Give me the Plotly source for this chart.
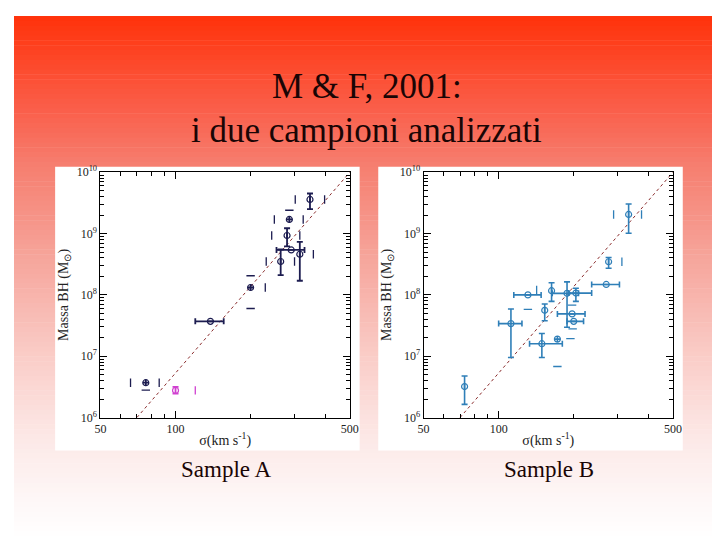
import math
import plotly.graph_objects as go

# Sample A: sigma (km/s), black hole mass (Msun)
a_sigma = [346, 286, 280, 291, 264, 315, 200, 138, 76]
a_mass = [3.6e9, 1.7e9, 9.3e8, 5.4e8, 3.5e8, 4.6e8, 1.32e8, 3.7e7, 3.7e6]
a_sigma_lo = [None, None, None, 254, None, None, None, 120, None]
a_sigma_hi = [None, None, None, 329, None, None, None, 156, None]
a_mass_lo = [2.5e9, None, 6.2e8, None, 2.1e8, 1.7e8, None, None, None]
a_mass_hi = [4.5e9, None, 1.22e9, None, 5.5e8, 7.3e8, None, None, None]
# end caps whose bar lines did not survive in the scan
a_vcap_sigma = [302, 396, 249, 325, 243, 315, 231, 300, 357, 229, 66, 86]
a_vcap_mass = [3.6e9, 3.6e9, 1.7e9, 1.7e9, 9.3e8, 9.3e8, 3.5e8, 3.5e8, 4.6e8, 1.32e8, 3.7e6, 3.7e6]
a_hcap_sigma = [286, 200, 200, 76]
a_hcap_mass = [2.4e9, 2.05e8, 6.0e7, 2.8e6]
# the one magenta point of sample A
a_pink_sigma = [100]
a_pink_mass = [2.77e6]
a_pink_mass_lo = [2.45e6]
a_pink_mass_hi = [3.17e6]
a_pink_cap_sigma = [120]

# Sample B
b_sigma = [332, 276, 270, 131, 163, 188, 204, 153, 197, 200, 112, 149, 172, 73]
b_mass = [2.05e9, 3.47e8, 1.48e8, 1.0e8, 1.17e8, 1.06e8, 1.07e8, 5.6e7, 4.9e7, 3.7e7,
          3.4e7, 1.6e7, 1.9e7, 3.2e6]
b_sigma_lo = [None, None, 236, 115, None, 164, 191, None, 172, 188, 100, 133, None, None]
b_sigma_hi = [None, None, 305, 148, None, 209, 236, None, 222, 219, 124, 180, None, None]
b_mass_lo = [1.01e9, 2.72e8, None, None, 7.85e7, 2.96e7, 7.85e7, 3.78e7, None, None,
             9.5e6, 9.5e6, None, 1.64e6]
b_mass_hi = [3.04e9, 4.07e8, None, None, 1.58e8, 1.63e8, 1.28e8, 7.1e7, None, None,
             5.9e7, 2.35e7, None, 4.76e6]
b_vcap_sigma = [289, 374, 312, 142]
b_vcap_mass = [2.05e9, 2.05e9, 3.47e8, 1.2e8]
b_hcap_sigma = [131, 197, 198, 194, 172]
b_hcap_mass = [5.8e7, 6.8e7, 2.8e7, 1.93e7, 6.8e6]

# M-sigma relation drawn in both panels
fit_sigma = [70, 500]
fit_mass = [1e6, 1e10]

x_ticks = [50, 100, 500]
x_minor = [60, 70, 80, 90, 200, 300, 400]
y_exps = [6, 7, 8, 9, 10]

NAVY = "#1c1c50"
BLUE = "#2f7fb8"
PINK = "#d040d0"
FIT = "#8a2c2c"


def plus(center, hi):
    return [None if h is None else h - c for c, h in zip(center, hi)]


def minus(center, lo):
    return [None if l is None else c - l for c, l in zip(center, lo)]


fig = go.Figure()


def add_sample(xa, ya, sig, mass, slo, shi, mlo, mhi, vcs, vcm, hcs, hcm, color, th):
    fig.add_trace(go.Scatter(
        x=fit_sigma, y=fit_mass, mode="lines", xaxis=xa, yaxis=ya,
        line=dict(color=FIT, width=1, dash="dot"), hoverinfo="skip"))
    fig.add_trace(go.Scatter(
        x=sig, y=mass, mode="markers", xaxis=xa, yaxis=ya,
        marker=dict(symbol="circle-open", size=6, color=color, line=dict(width=1.2)),
        error_x=dict(type="data", symmetric=False, array=plus(sig, shi),
                     arrayminus=minus(sig, slo), color=color, thickness=th, width=3),
        error_y=dict(type="data", symmetric=False, array=plus(mass, mhi),
                     arrayminus=minus(mass, mlo), color=color, thickness=th, width=3)))
    fig.add_trace(go.Scatter(
        x=vcs, y=vcm, mode="markers", xaxis=xa, yaxis=ya,
        marker=dict(symbol="line-ns", size=6, line=dict(width=1.3, color=color))))
    fig.add_trace(go.Scatter(
        x=hcs, y=hcm, mode="markers", xaxis=xa, yaxis=ya,
        marker=dict(symbol="line-ew", size=6, line=dict(width=1.3, color=color))))


add_sample("x", "y", a_sigma, a_mass, a_sigma_lo, a_sigma_hi, a_mass_lo, a_mass_hi,
           a_vcap_sigma, a_vcap_mass, a_hcap_sigma, a_hcap_mass, NAVY, 1.8)
fig.add_trace(go.Scatter(
    x=a_pink_sigma, y=a_pink_mass, mode="markers", xaxis="x", yaxis="y",
    marker=dict(symbol="circle-open", size=6, color=PINK, line=dict(width=1.2)),
    error_y=dict(type="data", symmetric=False, array=plus(a_pink_mass, a_pink_mass_hi),
                 arrayminus=minus(a_pink_mass, a_pink_mass_lo), color=PINK,
                 thickness=1.8, width=3)))
fig.add_trace(go.Scatter(
    x=a_pink_cap_sigma, y=a_pink_mass, mode="markers", xaxis="x", yaxis="y",
    marker=dict(symbol="line-ns", size=6, line=dict(width=1.3, color=PINK))))
add_sample("x2", "y2", b_sigma, b_mass, b_sigma_lo, b_sigma_hi, b_mass_lo, b_mass_hi,
           b_vcap_sigma, b_vcap_mass, b_hcap_sigma, b_hcap_mass, BLUE, 1.6)

tick_font = dict(family="Liberation Serif", size=12, color="#222")
axis_title_font = dict(family="Liberation Serif", size=14, color="#222")


def x_axis(dom, anchor):
    return dict(type="log", range=[math.log10(50), math.log10(500)], domain=dom,
                anchor=anchor, tickvals=x_ticks, ticktext=[str(v) for v in x_ticks],
                ticks="inside", ticklen=7, tickcolor="black", showline=True,
                linecolor="black", linewidth=1, mirror="ticks", showgrid=False,
                zeroline=False, tickfont=tick_font,
                minor=dict(tickvals=x_minor, ticks="inside", ticklen=4,
                           tickcolor="black", showgrid=False),
                title=dict(text="σ(km s<sup>-1</sup>)", font=axis_title_font, standoff=0))


def y_axis(dom, anchor):
    return dict(type="log", range=[6, 10], domain=dom, anchor=anchor,
                tickvals=[10 ** e for e in y_exps],
                ticktext=["10<sup>%d</sup>" % e for e in y_exps],
                ticks="inside", ticklen=7, tickcolor="black", showline=True,
                linecolor="black", linewidth=1, mirror="ticks", showgrid=False,
                zeroline=False, tickfont=tick_font,
                minor=dict(tickvals=[k * 10 ** e for e in y_exps[:-1] for k in range(2, 10)],
                           ticks="inside", ticklen=4, tickcolor="black", showgrid=False),
                title=dict(text="Massa BH (M<sub>⊙</sub>)", font=axis_title_font, standoff=4))


# slide background: red to white vertical gradient
stops = [(0.0, (255, 50, 10)), (0.18, (250, 95, 75)), (0.28, (246, 125, 110)),
         (0.46, (246, 165, 155)), (0.65, (250, 205, 200)), (0.8, (252, 232, 230)),
         (0.93, (254, 248, 248)), (1.0, (255, 255, 255))]


def grad(t):
    for (t0, c0), (t1, c1) in zip(stops[:-1], stops[1:]):
        if t <= t1:
            f = (t - t0) / (t1 - t0)
            return "rgb(%d,%d,%d)" % tuple(round(a + (b - a) * f) for a, b in zip(c0, c1))
    return "rgb(255,255,255)"


shapes = []
n = 108
for i in range(n):
    shapes.append(dict(type="rect", xref="paper", yref="paper", x0=0, x1=1,
                       y0=1 - (i + 1) / n - 0.001, y1=1 - i / n,
                       fillcolor=grad((i + 0.5) / n), line=dict(width=0), layer="below"))
for x0, x1 in [(42, 353), (372, 683)]:
    shapes.append(dict(type="rect", xref="paper", yref="paper", x0=x0 / 720, x1=x1 / 720,
                       y0=1 - 447 / 540, y1=1 - 155 / 540, fillcolor="white",
                       line=dict(width=0), layer="below"))

title_font = dict(family="Liberation Serif", size=35, color="#1a0505")
label_font = dict(family="Liberation Serif", size=23, color="#1a0505")
annotations = [
    dict(text="M & F, 2001:", x=0.5, y=1 - 73 / 540, font=title_font),
    dict(text="i due campioni analizzati", x=0.5, y=1 - 118 / 540, font=title_font),
    dict(text="Sample A", x=216 / 720, y=1 - 466 / 540, font=label_font),
    dict(text="Sample B", x=546 / 720, y=1 - 466 / 540, font=label_font),
]
for a in annotations:
    a.update(xref="paper", yref="paper", showarrow=False, xanchor="center", yanchor="middle")

fig.update_layout(
    width=720, height=540, margin=dict(l=0, r=0, t=0, b=0),
    paper_bgcolor="white", plot_bgcolor="rgba(0,0,0,0)", showlegend=False,
    xaxis=x_axis([88.3 / 720, 343 / 720], "y"),
    yaxis=y_axis([1 - 413 / 540, 1 - 160.7 / 540], "x"),
    xaxis2=x_axis([418.3 / 720, 673 / 720], "y2"),
    yaxis2=y_axis([1 - 413 / 540, 1 - 160.7 / 540], "x2"),
    shapes=shapes, annotations=annotations,
)

fig.write_html("out.html")
